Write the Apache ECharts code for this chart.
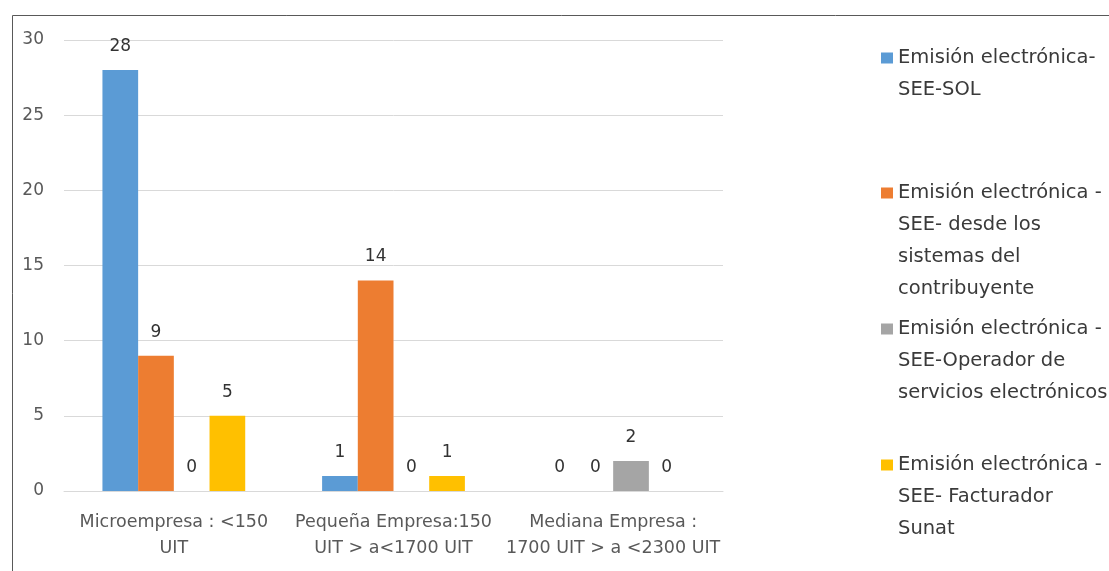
<!DOCTYPE html>
<html>
<head>
<meta charset="utf-8">
<script src="https://cdn.jsdelivr.net/npm/echarts@6/dist/echarts.min.js"></script>
<style>
  html, body { margin: 0; padding: 0; background: #ffffff; }
  #chart { width: 1109px; height: 571px; }
</style>
</head>
<body>
<div id="chart"></div>
<script>
// Company size groups (x axis)
const categories = [
  'Microempresa : <150\nUIT',
  'Pequeña Empresa:150\nUIT > a<1700 UIT',
  'Mediana Empresa :\n1700 UIT > a <2300 UIT'
];

// Series names and their wrapped legend text
const seriesNames = [
  'Emisión electrónica- SEE-SOL',
  'Emisión electrónica - SEE- desde los sistemas del contribuyente',
  'Emisión electrónica - SEE-Operador de servicios electrónicos',
  'Emisión electrónica - SEE- Facturador Sunat'
];
const legendLines = [
  ['Emisión electrónica-', 'SEE-SOL'],
  ['Emisión electrónica -', 'SEE- desde los', 'sistemas del', 'contribuyente'],
  ['Emisión electrónica -', 'SEE-Operador de', 'servicios electrónicos'],
  ['Emisión electrónica -', 'SEE- Facturador', 'Sunat']
];

// Counts per company size
const seeSol = [28, 1, 0];
const desdeSistemas = [9, 14, 0];
const operadorServicios = [0, 0, 2];
const facturadorSunat = [5, 1, 0];
const seriesValues = [seeSol, desdeSistemas, operadorServicios, facturadorSunat];

const colors = ['#5B9BD5', '#ED7D31', '#A5A5A5', '#FFC000'];
const FONT = '"DejaVu Sans", sans-serif';
const LEGEND_LINE = 32;
// vertical centre of the first text line of each legend entry
const legendFirstLine = [58, 193, 329, 465];

const chart = echarts.init(document.getElementById('chart'), null, { renderer: 'canvas' });

// The marker is centred on the text block; blank lines above the text
// put the marker level with the first line.
const legends = seriesNames.map((name, i) => {
  const n = legendLines[i].length;
  const padded = new Array(n - 1).fill(' ').concat(legendLines[i]);
  return {
    orient: 'vertical',
    left: 881,
    top: legendFirstLine[i] - (2 * n - 1) * LEGEND_LINE / 2,
    padding: 0,
    data: [name],
    icon: 'rect',
    itemWidth: 12,
    itemHeight: 11,
    itemGap: 0,
    selectedMode: false,
    formatter: () => padded.join('\n'),
    textStyle: {
      fontFamily: FONT,
      fontSize: 19.5,
      color: '#3a3a3a',
      lineHeight: LEGEND_LINE
    }
  };
});

chart.setOption({
  animation: false,
  color: colors,
  graphic: [{
    type: 'rect',
    left: 10,
    top: 13,
    shape: { width: 1200, height: 700 },
    style: { fill: 'none', stroke: '#595959', lineWidth: 1 },
    silent: true
  }],
  legend: legends,
  grid: { left: 64, right: 386, top: 40, bottom: 80, containLabel: false },
  xAxis: {
    type: 'category',
    data: categories,
    axisLine: { lineStyle: { color: '#D9D9D9', width: 1 } },
    axisTick: { show: false },
    axisLabel: {
      fontFamily: FONT,
      fontSize: 17.5,
      color: '#595959',
      lineHeight: 26,
      margin: 18,
      interval: 0
    }
  },
  yAxis: {
    type: 'value',
    min: 0,
    max: 30,
    interval: 5,
    axisLine: { show: false },
    axisTick: { show: false },
    splitLine: { lineStyle: { color: '#D9D9D9', width: 1 } },
    axisLabel: {
      fontFamily: FONT,
      fontSize: 17,
      color: '#595959',
      margin: 20
    }
  },
  series: seriesNames.map((name, i) => ({
    name: name,
    type: 'bar',
    data: seriesValues[i],
    barGap: '0%',
    barCategoryGap: '35%',
    itemStyle: { color: colors[i] },
    label: {
      show: true,
      position: 'top',
      distance: 15,
      fontFamily: FONT,
      fontSize: 17,
      color: '#333333'
    }
  }))
});
</script>
</body>
</html>
